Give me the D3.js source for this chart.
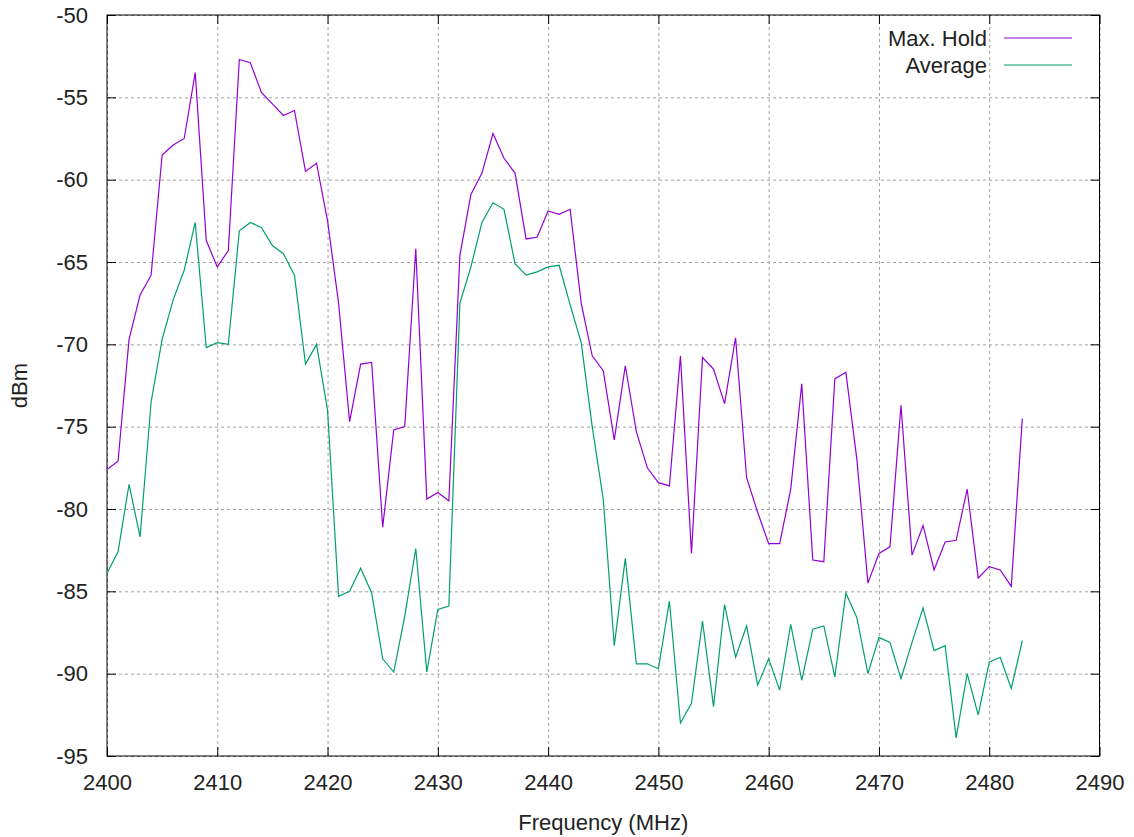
<!DOCTYPE html>
<html>
<head>
<meta charset="utf-8">
<script src="https://cdn.jsdelivr.net/npm/d3@7"></script>
<style>
  body { margin: 0; background: #fff; }
  svg { display: block; font-family: "Liberation Sans", Arial, sans-serif; }
  .tick text { font-size: 22px; fill: #222; }
  .grid line { stroke: #a0a0a0; stroke-dasharray: 3,3; }
</style>
</head>
<body>
<svg width="1134" height="837"></svg>
<script>
// frequencies 2400..2483 MHz, one point per MHz
var freqs = d3.range(2400, 2484);

var maxHold = [
  -77.6, -77.1, -69.7, -67.0, -65.8, -58.5, -57.9, -57.5, -53.5, -63.7,
  -65.3, -64.3, -52.7, -52.9, -54.7, -55.4, -56.1, -55.8, -59.5, -59.0,
  -62.5, -67.5, -74.7, -71.2, -71.1, -81.1, -75.2, -75.0, -64.2, -79.4,
  -79.0, -79.5, -64.6, -60.9, -59.6, -57.2, -58.7, -59.6, -63.6, -63.5,
  -61.9, -62.1, -61.8, -67.5, -70.7, -71.6, -75.8, -71.3, -75.3, -77.5,
  -78.4, -78.6, -70.7, -82.7, -70.8, -71.5, -73.6, -69.6, -78.1, -80.2,
  -82.1, -82.1, -78.8, -72.4, -83.1, -83.2, -72.1, -71.7, -77.0, -84.5,
  -82.7, -82.3, -73.7, -82.8, -81.0, -83.7, -82.0, -81.9, -78.8, -84.2,
  -83.5, -83.7, -84.7, -74.5
];

var average = [
  -83.9, -82.6, -78.5, -81.7, -73.5, -69.7, -67.3, -65.5, -62.6, -70.2,
  -69.9, -70.0, -63.1, -62.6, -62.9, -64.0, -64.5, -65.8, -71.2, -70.0,
  -74.0, -85.3, -85.0, -83.6, -85.1, -89.1, -89.9, -86.5, -82.4, -89.9,
  -86.1, -85.9, -67.5, -65.3, -62.6, -61.4, -61.8, -65.1, -65.8, -65.6,
  -65.3, -65.2, -67.6, -69.9, -75.0, -79.4, -88.3, -83.0, -89.4, -89.4,
  -89.7, -85.6, -93.0, -91.8, -86.8, -92.0, -85.8, -89.0, -87.1, -90.7,
  -89.1, -91.0, -87.0, -90.4, -87.3, -87.1, -90.2, -85.1, -86.6, -90.0,
  -87.8, -88.1, -90.3, -88.1, -86.0, -88.6, -88.3, -93.9, -90.0, -92.5,
  -89.3, -89.0, -90.9, -88.0
];

var xTicks = d3.range(2400, 2491, 10);
var yTicks = d3.range(-95, -49, 5);

var seriesNames = ["Max. Hold", "Average"];
var seriesColors = ["#9400d3", "#009e73"];

var svg = d3.select("svg"),
    margin = {top: 15, right: 34.5, bottom: 81, left: 107},
    width = +svg.attr("width") - margin.left - margin.right,
    height = +svg.attr("height") - margin.top - margin.bottom;

var x = d3.scaleLinear().domain([2400, 2490]).range([0, width]),
    y = d3.scaleLinear().domain([-95, -50]).range([height, 0]);

// plain hyphen minus, like gnuplot
var plain = function(d) { return String(d); };

var g = svg.append("g")
    .attr("transform", "translate(" + margin.left + "," + margin.top + ")");

// grid
g.append("g")
    .attr("class", "grid")
    .attr("transform", "translate(0," + height + ")")
    .call(d3.axisBottom(x).tickValues(xTicks).tickSize(-height).tickFormat(""))
    .call(function(s) { s.select(".domain").remove(); });

g.append("g")
    .attr("class", "grid")
    .call(d3.axisLeft(y).tickValues(yTicks).tickSize(-width).tickFormat(""))
    .call(function(s) { s.select(".domain").remove(); });

// axes, ticks pointing inward, mirrored on top and right
g.append("g")
    .attr("transform", "translate(0," + height + ")")
    .call(d3.axisBottom(x).tickValues(xTicks).tickSize(-9).tickPadding(18).tickFormat(plain))
    .call(function(s) { s.select(".domain").remove(); });

g.append("g")
    .call(d3.axisLeft(y).tickValues(yTicks).tickSize(-9).tickPadding(19).tickFormat(plain))
    .call(function(s) { s.select(".domain").remove(); });

g.append("g")
    .call(d3.axisTop(x).tickValues(xTicks).tickSize(-9).tickFormat(""))
    .call(function(s) { s.select(".domain").remove(); });

g.append("g")
    .attr("transform", "translate(" + width + ",0)")
    .call(d3.axisRight(y).tickValues(yTicks).tickSize(-9).tickFormat(""))
    .call(function(s) { s.select(".domain").remove(); });

g.selectAll(".tick line").filter(function() { return !this.closest(".grid"); })
    .attr("stroke", "#000");

// border
g.append("rect")
    .attr("width", width)
    .attr("height", height)
    .attr("fill", "none")
    .attr("stroke", "#000")
    .attr("stroke-width", 1);

// lines
var line = d3.line()
    .x(function(d) { return x(d[0]); })
    .y(function(d) { return y(d[1]); });

[maxHold, average].forEach(function(vals, i) {
  g.append("path")
      .datum(freqs.map(function(f, j) { return [f, vals[j]]; }))
      .attr("fill", "none")
      .attr("stroke", seriesColors[i])
      .attr("stroke-width", 1.2)
      .attr("d", line);
});

// legend
var legend = svg.append("g").attr("font-size", 22).attr("fill", "#222");
seriesNames.forEach(function(name, i) {
  var ly = 38 + i * 27;
  legend.append("text")
      .attr("x", 987)
      .attr("y", ly + 7.5)
      .attr("text-anchor", "end")
      .text(name);
  legend.append("line")
      .attr("x1", 1004).attr("x2", 1072)
      .attr("y1", ly).attr("y2", ly)
      .attr("stroke", seriesColors[i])
      .attr("stroke-width", 1.2);
});

// axis titles
svg.append("text")
    .attr("x", margin.left + width / 2)
    .attr("y", 830)
    .attr("text-anchor", "middle")
    .attr("font-size", 22)
    .attr("fill", "#222")
    .text("Frequency (MHz)");

svg.append("text")
    .attr("transform", "translate(27," + (margin.top + height / 2) + ") rotate(-90)")
    .attr("text-anchor", "middle")
    .attr("font-size", 22)
    .attr("fill", "#222")
    .text("dBm");
</script>
</body>
</html>
